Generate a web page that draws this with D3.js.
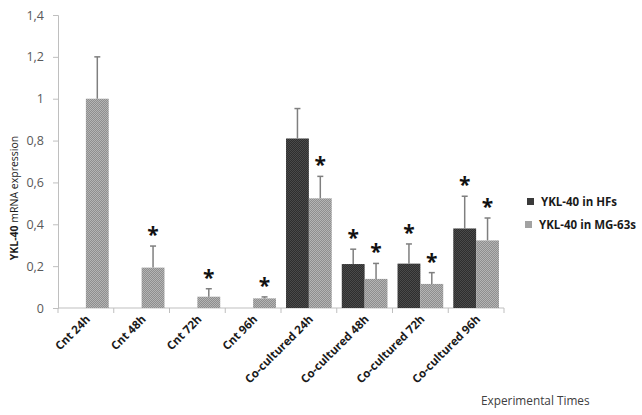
<!DOCTYPE html>
<html><head><meta charset="utf-8">
<script src="https://cdn.jsdelivr.net/npm/d3@7"></script>
<style>body{margin:0;background:#fff}svg{display:block}text{font-family:"Open Sans",sans-serif}</style>
</head><body>
<svg id="c" width="642" height="415"></svg>
<script>
const categories = ["Cnt 24h","Cnt 48h","Cnt 72h","Cnt 96h","Co-cultured 24h","Co-cultured 48h","Co-cultured 72h","Co-cultured 96h"];
const seriesNames = ["YKL-40 in HFs","YKL-40 in MG-63s"];
const hfValues   = [null,null,null,null,0.81,0.21,0.212,0.38];
const hfErrors   = [null,null,null,null,0.143,0.071,0.094,0.154];
const mgValues   = [1.0,0.193,0.054,0.046,0.524,0.139,0.115,0.323];
const mgErrors   = [0.2,0.103,0.038,0.007,0.105,0.074,0.054,0.107];
const hfStars    = [false,false,false,false,false,true,true,true];
const mgStars    = [false,true,true,true,true,true,true,true];
const yTicks = [0,0.2,0.4,0.6,0.8,1,1.2,1.4];

const svg = d3.select("#c");
const defs = svg.append("defs");
function pat(id,a,b){
  const p = defs.append("pattern").attr("id",id).attr("width",2).attr("height",2).attr("patternUnits","userSpaceOnUse");
  p.append("rect").attr("width",2).attr("height",2).attr("fill",a);
  p.append("rect").attr("width",1).attr("height",1).attr("fill",b);
  p.append("rect").attr("x",1).attr("y",1).attr("width",1).attr("height",1).attr("fill",b);
}
pat("pHF","#2e2e2e","#4a4a4a");
pat("pMG","#8e8e8e","#b4b4b4");
const fills = ["url(#pHF)","url(#pMG)"];
const legendFills = ["#3a3a3a","#a2a2a2"];

const x0 = 58, x1 = 504, yTop = 15, yBot = 308;
const x = d3.scaleBand().domain(categories).range([x0,x1]).paddingInner(0).paddingOuter(0);
const y = d3.scaleLinear().domain([0,1.4]).range([yBot,yTop]);
const xs = d3.scaleBand().domain(seriesNames).range([0,x.bandwidth()]).paddingInner(0).paddingOuter(0.22);

const fmt = v => String(+v.toFixed(1)).replace(".",",");

// Y axis
const gy = svg.append("g").attr("transform",`translate(${x0},0)`)
  .call(d3.axisLeft(y).tickValues(yTicks).tickFormat(fmt).tickSize(5).tickPadding(9));
gy.select(".domain").attr("stroke","#bfbfbf");
gy.selectAll(".tick line").attr("stroke","#bfbfbf");
gy.selectAll(".tick text").attr("fill","#595959").attr("font-size",12.5).attr("font-family","Open Sans");

// X axis
const gx = svg.append("g").attr("transform",`translate(0,${yBot})`);
gx.append("line").attr("x1",x0).attr("x2",x1).attr("stroke","#bfbfbf");
gx.selectAll("line.tk").data(categories.concat(["__end"])).join("line").attr("class","tk")
  .attr("x1",(d,i)=>x0+i*x.bandwidth()).attr("x2",(d,i)=>x0+i*x.bandwidth())
  .attr("y1",0).attr("y2",5).attr("stroke","#bfbfbf");
gx.selectAll("text").data(categories).join("text")
  .attr("transform",d=>`translate(${x(d)+x.bandwidth()/2+5},${12}) rotate(-45)`)
  .attr("text-anchor","end").attr("font-size",11.5).attr("font-weight","bold").attr("fill","#1a1a1a")
  .text(d=>d);

// bars
const series = [
  {name:seriesNames[0], vals:hfValues, errs:hfErrors, stars:hfStars},
  {name:seriesNames[1], vals:mgValues, errs:mgErrors, stars:mgStars}
];
series.forEach((s,si)=>{
  const g = svg.append("g");
  const data = categories.map((c,i)=>({c, v:s.vals[i], e:s.errs[i], st:s.stars[i]})).filter(d=>d.v!=null);
  g.selectAll("rect").data(data).join("rect")
    .attr("x",d=>x(d.c)+xs(s.name)).attr("width",xs.bandwidth())
    .attr("y",d=>y(d.v)).attr("height",d=>y(0)-y(d.v)).attr("fill",fills[si]);
  const cx = d=>x(d.c)+xs(s.name)+xs.bandwidth()/2;
  g.selectAll("line.eb").data(data).join("line").attr("class","eb")
    .attr("x1",cx).attr("x2",cx).attr("y1",d=>y(d.v)).attr("y2",d=>y(d.v+d.e))
    .attr("stroke","#7f7f7f").attr("stroke-width",1.5);
  g.selectAll("line.cap").data(data).join("line").attr("class","cap")
    .attr("x1",d=>cx(d)-3).attr("x2",d=>cx(d)+3).attr("y1",d=>y(d.v+d.e)).attr("y2",d=>y(d.v+d.e))
    .attr("stroke","#7f7f7f").attr("stroke-width",1.5);
  g.selectAll("text.star").data(data.filter(d=>d.st)).join("text").attr("class","star")
    .attr("x",cx).attr("y",d=>y(d.v+d.e)-4).attr("text-anchor","middle")
    .attr("font-size",21).attr("font-weight","bold").attr("fill","#111").attr("font-family","DejaVu Sans").text("*");
});

// y title
const yt = svg.append("text").attr("transform","translate(18,198) rotate(-90)")
  .attr("text-anchor","middle").attr("font-size",10.5).attr("fill","#1a1a1a");
yt.append("tspan").attr("font-weight","bold").text("YKL-40");
yt.append("tspan").text(" mRNA expression");

// legend
const lg = svg.append("g");
seriesNames.forEach((n,i)=>{
  const yy = 202 + i*23;
  lg.append("rect").attr("x",i?525:527).attr("y",yy-4).attr("width",7).attr("height",7).attr("fill",legendFills[i]);
  lg.append("text").attr("x",i?539:541).attr("y",yy+4).attr("font-size",11.5).attr("font-weight","bold").attr("fill","#1a1a1a").text(n);
});

// x title
svg.append("text").attr("x",481).attr("y",405).attr("font-size",11.8).attr("fill","#404040").text("Experimental Times");
</script>
</body></html>
